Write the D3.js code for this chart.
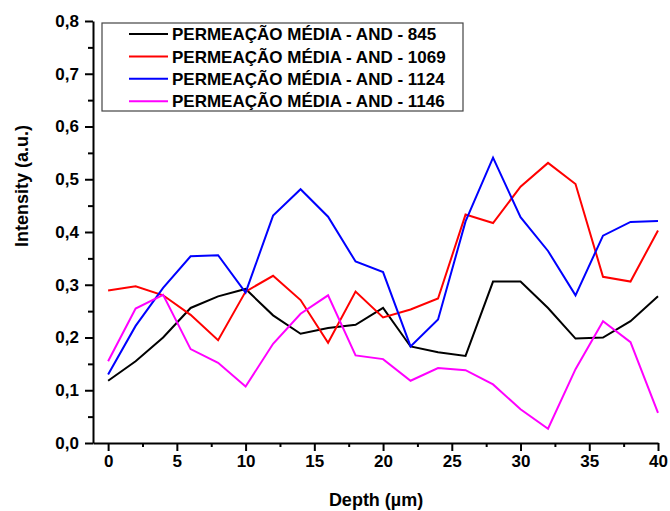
<!DOCTYPE html>
<html>
<head>
<meta charset="utf-8">
<script src="https://cdn.jsdelivr.net/npm/d3@7"></script>
<style>
  body { margin: 0; background: #fff; }
  text { font-family: "Liberation Sans", Arial, sans-serif; font-weight: bold; }
</style>
</head>
<body>
<div id="chart"></div>
<script>
// depth values (µm)
var depth = [0, 2, 4, 6, 8, 10, 12, 14, 16, 18, 20, 22, 24, 26, 28, 30, 32, 34, 36, 38, 40];

// intensity per sample
var and845  = [0.118, 0.155, 0.200, 0.256, 0.278, 0.292, 0.242, 0.207, 0.218, 0.224, 0.256, 0.183, 0.172, 0.165, 0.306, 0.306, 0.256, 0.198, 0.200, 0.231, 0.278];
var and1069 = [0.289, 0.297, 0.280, 0.243, 0.195, 0.287, 0.317, 0.271, 0.190, 0.287, 0.238, 0.253, 0.274, 0.433, 0.417, 0.486, 0.531, 0.491, 0.315, 0.306, 0.403];
var and1124 = [0.130, 0.222, 0.294, 0.354, 0.356, 0.285, 0.431, 0.481, 0.429, 0.344, 0.324, 0.183, 0.234, 0.420, 0.541, 0.428, 0.364, 0.280, 0.393, 0.419, 0.421];
var and1146 = [0.155, 0.255, 0.281, 0.178, 0.152, 0.107, 0.188, 0.245, 0.280, 0.166, 0.159, 0.118, 0.142, 0.138, 0.111, 0.064, 0.027, 0.140, 0.231, 0.191, 0.057];

var seriesNames = ["PERMEAÇÃO MÉDIA - AND - 845", "PERMEAÇÃO MÉDIA - AND - 1069",
                   "PERMEAÇÃO MÉDIA - AND - 1124", "PERMEAÇÃO MÉDIA - AND - 1146"];
var seriesColors = ["#000000", "#ff0000", "#0000ff", "#ff00ff"];

var xTicks = [0, 5, 10, 15, 20, 25, 30, 35, 40];
var yTicks = [0, 0.1, 0.2, 0.3, 0.4, 0.5, 0.6, 0.7, 0.8];

var series = [and845, and1069, and1124, and1146];

var totalW = 670, totalH = 511;
var margin = {top: 21, right: 12, bottom: 68, left: 93};

var svg = d3.select("#chart")
  .append("svg")
    .attr("width", totalW)
    .attr("height", totalH)
  .append("g")
    .attr("transform", "translate(" + margin.left + "," + margin.top + ")");

var x = d3.scaleLinear().domain([-1.1, 40]).range([0, 565]);
var y = d3.scaleLinear().domain([0, 0.8]).range([422, 0]);

var comma = function (d) { return d3.format(".1f")(d).replace(".", ","); };

// minor ticks first
svg.append("g")
  .attr("transform", "translate(0," + y(0) + ")")
  .call(d3.axisBottom(x).tickValues(d3.range(2.5, 40, 5)).tickSize(4).tickFormat("").tickSizeOuter(0))
  .call(function (g) { g.select(".domain").remove(); g.selectAll("line").attr("stroke-width", 2); });
svg.append("g")
  .call(d3.axisLeft(y).tickValues(d3.range(0.05, 0.8, 0.1)).tickSize(5).tickFormat("").tickSizeOuter(0))
  .call(function (g) { g.select(".domain").remove(); g.selectAll("line").attr("stroke-width", 2); });

// X axis
var xAxis = svg.append("g")
  .attr("transform", "translate(0," + y(0) + ")")
  .call(d3.axisBottom(x).tickValues(xTicks).tickSize(8).tickSizeOuter(0).tickPadding(4));
xAxis.select(".domain").attr("stroke-width", 2);
xAxis.selectAll("line").attr("stroke-width", 2);
xAxis.selectAll("text").style("font-size", "17px").attr("fill", "#000");

// Y axis
var yAxis = svg.append("g")
  .call(d3.axisLeft(y).tickValues(yTicks).tickSize(8).tickSizeOuter(0).tickPadding(6).tickFormat(comma));
yAxis.select(".domain").attr("stroke-width", 2);
yAxis.selectAll("line").attr("stroke-width", 2);
yAxis.selectAll("text").style("font-size", "17px").attr("fill", "#000");

// axis titles
svg.append("text")
  .attr("x", x(20) - 7)
  .attr("y", 485)
  .attr("text-anchor", "middle")
  .style("font-size", "18px")
  .text("Depth (\u00b5m)");

svg.append("text")
  .attr("transform", "translate(-65," + 165 + ") rotate(-90)")
  .attr("text-anchor", "middle")
  .style("font-size", "18px")
  .text("Intensity (a.u.)");

// lines
var line = d3.line()
  .x(function (d, i) { return x(depth[i]); })
  .y(function (d) { return y(d); });

series.forEach(function (s, k) {
  svg.append("path")
    .datum(s)
    .attr("fill", "none")
    .attr("stroke", seriesColors[k])
    .attr("stroke-width", 2)
    .attr("stroke-linejoin", "miter")
    .attr("d", line);
});

// legend
var legend = svg.append("g").attr("transform", "translate(9,2)");
legend.append("rect")
  .attr("width", 361)
  .attr("height", 88)
  .attr("fill", "#fff")
  .attr("stroke", "#444")
  .attr("stroke-width", 1.2);

seriesNames.forEach(function (name, k) {
  var row = legend.append("g").attr("transform", "translate(0," + (11 + k * 22.4) + ")");
  row.append("line")
    .attr("x1", 27).attr("x2", 66)
    .attr("stroke", seriesColors[k])
    .attr("stroke-width", 2);
  row.append("text")
    .attr("x", 70)
    .attr("dy", "0.36em")
    .style("font-size", "17px")
    .text(name);
});
</script>
</body>
</html>
